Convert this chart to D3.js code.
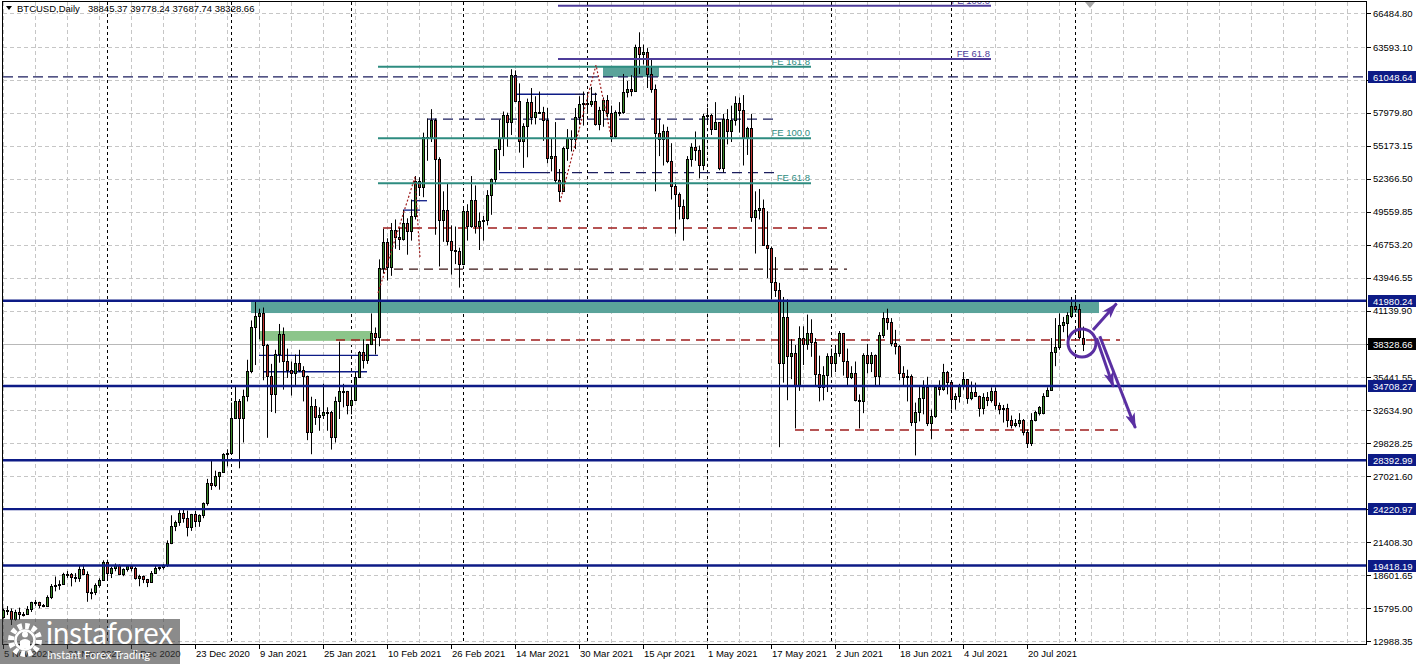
<!DOCTYPE html>
<html><head><meta charset="utf-8">
<script src="https://cdn.jsdelivr.net/npm/d3@7"></script>
<style>
html,body{margin:0;padding:0;background:#fff;}
svg{display:block;font-family:"Liberation Sans",Arial,sans-serif;}
</style></head><body>
<svg id="c" width="1420" height="664"></svg>
<script>
// ---------- categories ----------
const firstDate = "2020-11-05", lastDate = "2021-08-03";
const missingDates = ["2021-01-01"];
const xTickDates = ["2020-11-05","2020-11-21","2020-12-07","2020-12-23","2021-01-09","2021-01-25","2021-02-10","2021-02-26","2021-03-14","2021-03-30","2021-04-15","2021-05-01","2021-05-17","2021-06-02","2021-06-18","2021-07-04","2021-07-20"];
const xTickLabels = ["5 Nov 2020","21 Nov 2020","7 Dec 2020","23 Dec 2020","9 Jan 2021","25 Jan 2021","10 Feb 2021","26 Feb 2021","14 Mar 2021","30 Mar 2021","15 Apr 2021","1 May 2021","17 May 2021","2 Jun 2021","18 Jun 2021","4 Jul 2021","20 Jul 2021"];
const yTickValues = [66484.80,63593.10,60786.45,57979.80,55173.15,52366.50,49559.85,46753.20,43946.55,41139.90,38333.25,35441.55,32634.90,29828.25,27021.60,24214.95,21408.30,18601.65,15795.00,12988.35];

// ---------- OHLC series (one row per month) ----------
const open = [
 15050,15590,15580,14840,15480,15330,15300,15700,16280,16330,16070,15960,16720,17660,17800,17820,18680,18710,18420,18370,19160,18720,17150,17140,17720,18180,
 19700,18800,19220,19450,18700,19150,19360,19180,18320,18550,18250,18040,18800,19170,19270,19440,21380,22800,23130,23860,23480,22730,23820,23240,23730,24710,26490,26280,27080,27380,28880,
 29000,32000,33400,31990,33900,36000,39700,40670,40900,38240,35540,34000,37400,39150,36830,36070,35800,36640,36070,35560,30830,33010,32100,32280,32470,32500,30410,33460,34320,34290,
 33100,33540,35510,37620,36940,38290,39260,38900,44770,47000,44850,47990,47410,47230,48630,47940,49200,52150,51680,55890,55900,57410,54090,48890,49700,47090,46340,46190,
 45140,49630,48380,50540,48370,48760,48880,50970,52380,54880,55860,57770,57220,61190,59000,55630,56900,58910,57650,58030,58100,57350,54100,54340,52300,51300,55030,55840,55780,57600,58760,
 58800,58730,58970,57060,58200,59120,57990,56000,58090,58090,59770,60000,59860,63580,62960,63160,61330,60060,56250,55720,56470,53910,51760,51090,50050,49000,54020,55040,54820,53560,
 57750,57830,56630,57200,53330,57420,56400,57360,58800,58230,55860,56700,49150,49720,49880,46760,46450,43540,42900,36700,40580,37300,37530,34700,38800,38320,39240,38440,35700,34600,35670,
 37300,36700,37560,39190,36850,35520,35800,33550,33400,37390,36690,37340,35550,39020,40520,40140,38350,38090,35820,35480,35600,31680,32500,33680,34660,31600,32160,34640,34440,35870,
 35040,33570,33900,34690,35290,33690,34220,33860,32880,33810,33510,34260,33100,32730,32820,31780,31400,31530,31800,30820,29850,31800,32400,32400,33900,34400,37600,38000,39900,40100,40700,
 41500,41270,38845.37
];
const high = [
 15750,15960,15760,15650,15830,15460,15960,16330,16480,16330,16140,16880,17840,18480,18160,18800,18950,18780,18770,19420,19490,18920,17460,17900,18330,19860,
 19920,19320,19590,19520,19180,19410,19420,19300,18640,18560,18280,18950,19410,19330,19550,21560,23700,23260,24170,24280,24100,23820,24080,23780,24790,26800,28400,27500,27400,28990,29320,
 33300,34800,33600,34400,36950,40300,41900,41300,41400,38300,36600,37800,40000,39700,37900,36800,37400,37800,36400,35600,33800,33600,32900,34900,32900,32600,33800,38500,34900,34300,
 34700,35900,37700,38700,38300,40900,39700,45500,48100,47300,48600,48900,48200,49700,49000,50600,52600,52500,56300,57500,58300,57500,54200,51300,52000,48400,48300,46500,
 49800,50200,52600,51800,49500,49200,51400,52400,54900,57400,58100,58000,61700,61600,60500,57100,59200,60100,59400,59800,58500,58400,55800,57200,53200,55100,56600,56500,58400,59400,59800,
 59500,60200,59700,58500,59300,59500,58600,58200,58900,61300,60700,61200,63800,64850,63800,63500,62500,60400,57500,57000,56800,55400,52100,51200,50600,54300,55400,56400,55200,57900,
 58400,57900,58900,57200,57900,58300,58600,59400,59300,59500,56800,57900,51300,51500,50600,49600,46600,45700,43500,42300,42100,38700,38200,39800,39800,40800,40400,38800,37300,36400,37500,
 37900,38200,39400,39200,37900,36400,36800,34000,37500,38300,37600,37400,39300,41000,41300,40500,39500,38200,36400,36100,35700,33300,34800,35200,35500,32700,34700,35200,36600,36000,
 35100,34100,34900,35900,35300,35100,35000,33900,34100,34200,34600,34600,33300,33100,33200,32200,31900,32400,31900,31000,32400,32600,33000,34100,34600,38800,40500,40900,40600,41000,42300,
 42470,41700,39778.24
];
const low = [
 14900,15200,14350,14720,14810,15080,15290,15460,15990,15780,15870,15880,16560,17220,17350,17770,18360,17640,18000,18030,18600,16330,16540,16900,17530,18180,
 18330,18350,18930,18590,18510,18900,18920,18220,17650,17920,17580,18020,18730,19000,19080,19300,21240,22350,22800,23070,21900,22370,22700,22720,23450,24520,25860,26100,25880,27330,27870,
 28900,31900,27700,29900,33400,35800,36500,38700,35200,30300,32500,32400,36700,34400,35400,33900,34800,35900,33400,30100,28900,31400,30900,31900,30900,29300,29900,31900,32900,32300,
 32300,33500,35400,36200,36600,38200,37400,38100,44300,43700,44100,46400,46300,47100,45900,47100,48900,50900,50800,53900,55500,47600,44900,47000,46700,44200,45100,43100,
 45000,47100,48200,47700,46300,47100,48400,49300,51900,53100,54300,55100,56100,58900,54600,53300,54200,57000,57000,57900,55600,53700,53000,52000,50400,51300,53900,54700,54900,57000,56900,
 57900,58500,56900,56500,56800,57600,55500,55800,57700,57900,59300,59400,59800,61300,62100,60100,59700,51300,54300,53500,53700,50600,47700,48900,47100,48900,53400,53900,52400,53100,
 57100,56100,56600,53100,52900,55300,55500,56900,56300,53500,54400,48700,46000,48900,46700,43900,42100,42300,29500,35000,33500,35300,31100,34300,36500,37800,37200,34800,33400,33500,34200,
 35700,35900,37200,35600,34800,35300,33400,31100,32400,35800,35900,34700,34800,38800,39500,38100,37400,35200,34800,33400,31300,28800,31700,32300,31300,30200,32000,33900,34300,34000,
 32700,32700,33300,34400,33200,33500,33800,32100,32300,33000,33300,32700,32300,31600,31200,31100,31200,31200,30500,29430,29600,31700,32200,32300,33800,34300,36400,37800,39300,38300,40500,
 41000,38700,37687.74
];
const close = [
 15590,15580,14840,15480,15330,15300,15700,16280,16330,16070,15960,16720,17660,17800,17820,18680,18710,18420,18370,19160,18720,17150,17140,17720,18180,19700,
 18800,19220,19450,18700,19150,19360,19180,18320,18550,18250,18040,18800,19170,19270,19440,21380,22800,23130,23860,23480,22730,23820,23240,23730,24710,26490,26280,27080,27380,28880,28990,
 32000,33400,31990,33900,36000,39700,40670,40900,38240,35540,34000,37400,39150,36830,36070,35800,36640,36070,35560,30830,33010,32100,32280,32470,32500,30410,33460,34320,34290,33100,
 33540,35510,37620,36940,38290,39260,38900,44770,47000,44850,47990,47410,47230,48630,47940,49200,52150,51680,55890,55900,57410,54090,48890,49700,47090,46340,46190,45140,
 49630,48380,50540,48370,48760,48880,50970,52380,54880,55860,57770,57220,61190,59000,55630,56900,58910,57650,58030,58100,57350,54100,54340,52300,51300,55030,55840,55780,57600,58760,58800,
 58730,58970,57060,58200,59120,57990,56000,58090,58090,59770,60000,59860,63580,62960,63160,61330,60060,56250,55720,56470,53910,51760,51090,50050,49000,54020,55040,54820,53560,57750,
 57830,56630,57200,53330,57420,56400,57360,58800,58230,55860,56700,49150,49720,49880,46760,46450,43540,42900,36700,40580,37300,37530,34700,38800,38320,39240,38440,35700,34600,35670,37300,
 36700,37560,39190,36850,35520,35800,33550,33400,37390,36690,37340,35550,39020,40520,40140,38350,38090,35820,35480,35600,31680,32500,33680,34660,31600,32160,34640,34440,35870,35040,
 33570,33900,34690,35290,33690,34220,33860,32880,33810,33510,34260,33100,32730,32820,31780,31400,31530,31800,30820,29850,31800,32500,32900,33900,34400,37600,38000,39900,40150,40800,41500,
 41270,38880,38328.66
];

// ---------- levels & annotations (bar index / price) ----------
const supportLevels = [41980.24, 34708.27, 28392.99, 24220.97, 19418.19];
const dashedLevel = 61048.64;
const lastPrice = 38328.66;
const zoneTeal = [[62, 274, 41980.24, 40930], [150, 164, 61980, 61048.64]];
const zoneGreen = [[64, 92.25, 39400, 38560]];
const feTealRange = [93.75, 202];
const feTealLevels = [61918, 55818, 51984];
const feTealNames = ["FE 161.8", "FE 100.0", "FE 61.8"];
const fePurpleRange = [138.75, 247];
const fePurpleLevels = [67115, 62580];
const fePurpleNames = ["FE 100.0", "FE 61.8"];
const redDashed = [[95, 207, 48175], [83.25, 279.25, 38634], [198, 278.75, 30966]];
const darkDashed = [[94, 211, 44680]];
const navySolid = [[64, 93.75, 37330], [65, 91, 35930], [102.2, 106, 50500], [100, 104.25, 49700], [128, 143, 59570], [124, 134.25, 52890]];
const navyDashed = [[143, 148.5, 59570], [106, 193, 57460], [134.25, 193, 52890]];
const zigzags = [[[93.75, 42640], [103, 52520], [104.25, 45620]], [[139.25, 50390], [148.25, 62060], [152, 56010]]];
const circleMark = [269.75, 38378];
const arrows = [[[272.5, 39480], [278.4, 41740]], [[273.4, 38780], [277.6, 34640]], [[274.2, 38950], [283.1, 31130]]];
const headerSymbol = "BTCUSD,Daily";
const headerValues = "38845.37 39778.24 37687.74 38328.66";

// ---------- build ----------
const fmtD = d3.utcFormat("%Y-%m-%d");
const dates = d3.utcDay.range(new Date(firstDate), d3.utcDay.offset(new Date(lastDate), 1)).map(fmtD).filter(d => !missingDates.includes(d));
const N = Math.min(dates.length, open.length, high.length, low.length, close.length);

const svg = d3.select("#c");
const P = {l: 3, r: 1367, t: 2, b: 645};
const x = d3.scaleLinear().domain([0, 341]).range([P.l, P.r]);
const y = d3.scaleLinear().domain([12988.35, 66484.80]).range([641, 13.1]);

const C = {grid: "#c6c6c6", navy: "#0d1b86", navyDark: "#1b1d5e", teal: "#2e8c80", tealFill: "#5aa39a", green: "#8cc58a",
  purple: "#4e3c9a", arrow: "#5a2fa2", red: "#9e1c1c", dark: "#3a1414", up: "#3b8b2b", dn: "#c0322e"};

svg.append("rect").attr("width", 1420).attr("height", 664).attr("fill", "#fff");
const defs = svg.append("defs");
defs.append("clipPath").attr("id", "pc").append("rect").attr("x", P.l).attr("y", P.t).attr("width", P.r - P.l).attr("height", P.b - P.t);
defs.append("marker").attr("id", "ah").attr("viewBox", "0 0 16 10").attr("refX", 15).attr("refY", 5)
  .attr("markerWidth", 16).attr("markerHeight", 10).attr("markerUnits", "userSpaceOnUse").attr("orient", "auto")
  .append("path").attr("d", "M0,0 L16,5 L0,10 L4,5 Z").attr("fill", C.arrow);

const g = svg.append("g").attr("clip-path", "url(#pc)");
const crisp = v => Math.round(v) + 0.5;

// grid
g.append("g").selectAll("line").data(d3.range(0, 342, 8)).join("line")
  .attr("x1", i => crisp(x(i))).attr("x2", i => crisp(x(i))).attr("y1", P.t).attr("y2", P.b)
  .attr("stroke", C.grid).attr("stroke-dasharray", "4,3");
g.append("g").selectAll("line").data(yTickValues).join("line")
  .attr("y1", v => crisp(y(v))).attr("y2", v => crisp(y(v))).attr("x1", P.l).attr("x2", P.r)
  .attr("stroke", C.grid).attr("stroke-dasharray", "4,3");

// period separators (first bar of each month)
const sepIdx = dates.slice(0, N).map((d, i) => (i > 0 && d.slice(5, 7) !== dates[i - 1].slice(5, 7)) ? i : -1).filter(i => i >= 0);
g.append("g").selectAll("line").data(sepIdx).join("line")
  .attr("x1", i => crisp(x(i))).attr("x2", i => crisp(x(i))).attr("y1", P.t).attr("y2", P.b)
  .attr("stroke", "#000").attr("stroke-dasharray", "3,3");

// zones
g.append("g").selectAll("rect").data(zoneTeal).join("rect")
  .attr("x", d => x(d[0])).attr("width", d => x(d[1]) - x(d[0]))
  .attr("y", d => y(d[2])).attr("height", d => y(d[3]) - y(d[2])).attr("fill", C.tealFill);
g.append("g").selectAll("rect").data(zoneGreen).join("rect")
  .attr("x", d => x(d[0])).attr("width", d => x(d[1]) - x(d[0]))
  .attr("y", d => y(d[2])).attr("height", d => y(d[3]) - y(d[2])).attr("fill", C.green);

// last price line
g.append("line").attr("x1", P.l).attr("x2", P.r).attr("y1", crisp(y(lastPrice))).attr("y2", crisp(y(lastPrice))).attr("stroke", "#b8b8b8");

// dashed / navy lines
const hLines = (data, color, w, dash) => g.append("g").selectAll("line").data(data).join("line")
  .attr("x1", d => x(d[0])).attr("x2", d => x(d[1])).attr("y1", d => y(d[2])).attr("y2", d => y(d[2]))
  .attr("stroke", color).attr("stroke-width", w).attr("stroke-dasharray", dash);
hLines(redDashed, C.red, 1.5, "9,6");
hLines(darkDashed, C.dark, 1.3, "9,6");
hLines(navySolid, C.navy, 1.3, null);
hLines(navyDashed, C.navyDark, 1.3, "10,6");

// candles
const cg = g.append("g");
const bars = d3.range(N);
cg.selectAll("line").data(bars).join("line")
  .attr("x1", i => x(i) + 0.5).attr("x2", i => x(i) + 0.5)
  .attr("y1", i => y(high[i])).attr("y2", i => y(low[i])).attr("stroke", "#000");
cg.selectAll("rect").data(bars).join("rect")
  .attr("x", i => x(i) - 0.5).attr("width", 2)
  .attr("y", i => Math.round(y(Math.max(open[i], close[i]))) + 0.5)
  .attr("height", i => Math.max(1, Math.round(y(Math.min(open[i], close[i]))) - Math.round(y(Math.max(open[i], close[i])))))
  .attr("fill", i => close[i] >= open[i] ? C.up : C.dn).attr("stroke", "#000").attr("stroke-width", 1);

// horizontal levels
g.append("g").selectAll("line").data(supportLevels).join("line")
  .attr("x1", P.l).attr("x2", P.r).attr("y1", v => y(v)).attr("y2", v => y(v))
  .attr("stroke", C.navy).attr("stroke-width", 2.4);
g.append("line").attr("x1", P.l).attr("x2", P.r).attr("y1", y(dashedLevel)).attr("y2", y(dashedLevel))
  .attr("stroke", C.navyDark).attr("stroke-width", 1.2).attr("stroke-dasharray", "10,5");

// Fibonacci expansion levels
feTealLevels.forEach((v, k) => {
  g.append("line").attr("x1", x(feTealRange[0])).attr("x2", x(feTealRange[1])).attr("y1", y(v)).attr("y2", y(v))
    .attr("stroke", C.teal).attr("stroke-width", 2);
  g.append("text").attr("x", x(feTealRange[1]) - 1).attr("y", y(v) - 2).attr("text-anchor", "end")
    .attr("font-size", 9.5).attr("fill", C.teal).text(feTealNames[k]);
});
fePurpleLevels.forEach((v, k) => {
  g.append("line").attr("x1", x(fePurpleRange[0])).attr("x2", x(fePurpleRange[1])).attr("y1", y(v)).attr("y2", y(v))
    .attr("stroke", C.purple).attr("stroke-width", 2);
  g.append("text").attr("x", x(fePurpleRange[1]) - 1).attr("y", y(v) - 2).attr("text-anchor", "end")
    .attr("font-size", 9.5).attr("fill", C.purple).text(fePurpleNames[k]);
});

// zigzag dotted paths
const lineGen = d3.line().x(d => x(d[0])).y(d => y(d[1]));
g.append("g").selectAll("path").data(zigzags).join("path").attr("d", lineGen)
  .attr("fill", "none").attr("stroke", C.red).attr("stroke-width", 1.2).attr("stroke-dasharray", "2,2");

// circle & arrows
g.append("circle").attr("cx", x(circleMark[0])).attr("cy", y(circleMark[1])).attr("r", 14)
  .attr("fill", "none").attr("stroke", C.arrow).attr("stroke-width", 3);
g.append("g").selectAll("path").data(arrows).join("path").attr("d", lineGen)
  .attr("fill", "none").attr("stroke", C.arrow).attr("stroke-width", 3).attr("marker-end", "url(#ah)");

// chart shift marker
svg.append("path").attr("d", `M${x(271.75) - 5},${P.t} L${x(271.75) + 5},${P.t} L${x(271.75)},${P.t + 6} Z`).attr("fill", "#a8a8a8");

// frame
svg.append("rect").attr("x", P.l - 0.5).attr("y", P.t - 0.5).attr("width", P.r - P.l).attr("height", P.b - P.t)
  .attr("fill", "none").attr("stroke", "#000");

// right axis
const ya = svg.append("g");
ya.selectAll("line").data(yTickValues).join("line")
  .attr("x1", P.r).attr("x2", P.r + 4).attr("y1", v => crisp(y(v))).attr("y2", v => crisp(y(v))).attr("stroke", "#000");
ya.selectAll("text").data(yTickValues).join("text")
  .attr("x", P.r + 6).attr("y", v => y(v) + 3.5).attr("font-size", 9.5).attr("fill", "#000").text(d3.format(".2f"));
const boxes = supportLevels.concat([dashedLevel]).map(v => [v, C.navy]).concat([[lastPrice, "#000"]]);
boxes.forEach(([v, col]) => {
  svg.append("rect").attr("x", P.r + 1).attr("y", Math.round(y(v)) - 6).attr("width", 48).attr("height", 12).attr("fill", col);
  svg.append("text").attr("x", P.r + 6).attr("y", Math.round(y(v)) + 3.5).attr("font-size", 9.5).attr("fill", "#fff").text(d3.format(".2f")(v));
});

// bottom axis
const xa = svg.append("g");
const tickIdx = xTickDates.map(d => dates.indexOf(d));
xa.selectAll("line").data(tickIdx).join("line")
  .attr("x1", i => crisp(x(i))).attr("x2", i => crisp(x(i))).attr("y1", P.b).attr("y2", P.b + 4).attr("stroke", "#000");
xa.selectAll("text").data(tickIdx).join("text")
  .attr("x", i => x(i) + 1).attr("y", 657).attr("font-size", 9.5).attr("fill", "#000").text((i, k) => xTickLabels[k]);

// header
svg.append("path").attr("d", "M6,6 L12,6 L9,10 Z").attr("fill", "#000");
svg.append("text").attr("x", 17).attr("y", 12).attr("font-size", 9.5).text(headerSymbol);
svg.append("text").attr("x", 88).attr("y", 12).attr("font-size", 9.5).text(headerValues);

// watermark
const wm = svg.append("g");
wm.append("rect").attr("x", 0).attr("y", 619).attr("width", 180).attr("height", 45).attr("fill", "#3e3e3e").attr("opacity", 0.6);
wm.append("circle").attr("cx", 25).attr("cy", 640).attr("r", 14).attr("fill", "none").attr("stroke", "#fff").attr("stroke-width", 6).attr("stroke-dasharray", "4.2,3.1");
wm.append("circle").attr("cx", 25).attr("cy", 640).attr("r", 9.5).attr("fill", "none").attr("stroke", "#fff").attr("stroke-width", 2.5);
wm.append("circle").attr("cx", 25).attr("cy", 634.5).attr("r", 3).attr("fill", "#fff");
wm.append("path").attr("d", "M20,648 L20,641 Q25,637 30,641 L30,648 Z").attr("fill", "#fff");
wm.append("text").attr("x", 46).attr("y", 644).attr("font-size", 30).attr("font-family", "Lato, 'Open Sans', sans-serif")
  .attr("fill", "#fff").attr("textLength", 127).attr("lengthAdjust", "spacingAndGlyphs").text("instaforex");
wm.append("text").attr("x", 47).attr("y", 659).attr("font-size", 11).attr("font-family", "Lato, 'Open Sans', sans-serif")
  .attr("fill", "#fff").attr("textLength", 103).attr("lengthAdjust", "spacingAndGlyphs").text("Instant Forex Trading");
</script>
</body></html>
